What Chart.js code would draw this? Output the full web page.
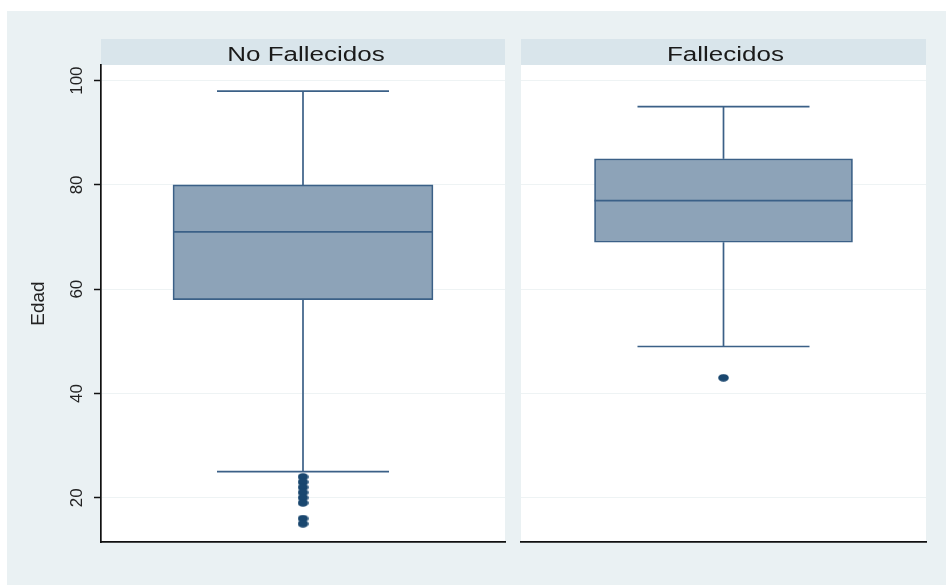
<!DOCTYPE html>
<html>
<head>
<meta charset="utf-8">
<script src="https://cdn.jsdelivr.net/npm/chart.js@4/dist/chart.umd.min.js"></script>
<style>
  html, body { margin: 0; padding: 0; background: #ffffff; }
  body { width: 946px; height: 586px; position: relative; overflow: hidden; }
  #frame { position: absolute; left: 7px; top: 11px; width: 939px; height: 574px; background: #eaf1f3; }
  canvas { position: absolute; top: 0; }
  #c1 { left: 0; }
  #c2 { left: 513px; }
</style>
</head>
<body>
<div id="frame"></div>
<canvas id="c1" width="513" height="586"></canvas>
<canvas id="c2" width="433" height="586"></canvas>
<script>
// Age (Edad) distribution by outcome group
const groups = ['No Fallecidos', 'Fallecidos'];
const lowerWhisker = [25, 49];
const q1 = [58, 69];
const median = [71, 77];
const q3 = [80, 85];
const upperWhisker = [98, 95];
const outliers = [
  [24, 23, 22, 21, 20, 19, 16, 15],
  [43]
];
const yMin = 11.5;
const yMax = 103;
const yStep = 20;

const BOX_FILL = '#8da3b8';
const BOX_LINE = '#3b6087';
const DOT = '#1a476f';
const GRID = '#eef3f4';

// Slightly wide oval marker for outside values
const dotMarker = document.createElement('canvas');
dotMarker.width = 11;
dotMarker.height = 8;
(() => {
  const g = dotMarker.getContext('2d');
  g.fillStyle = DOT;
  g.beginPath();
  g.ellipse(5.5, 4, 5.3, 3.8, 0, 0, Math.PI * 2);
  g.fill();
})();

// White plot region plus the grey header strip holding the group name
const panelDecor = {
  id: 'panelDecor',
  beforeDraw(chart, args, opts) {
    const { ctx, chartArea: a } = chart;
    ctx.save();
    ctx.fillStyle = '#ffffff';
    ctx.fillRect(a.left, a.top, a.right - a.left, a.bottom - a.top);
    ctx.fillStyle = '#d9e5eb';
    ctx.fillRect(a.left, a.top - 26, a.right - a.left, 26);
    ctx.fillStyle = '#1a1a1a';
    ctx.font = '20px "Liberation Sans", Arial, sans-serif';
    ctx.textAlign = 'center';
    ctx.textBaseline = 'alphabetic';
    const cx = (a.left + a.right) / 2 + opts.shift;
    ctx.translate(cx, a.top - 4);
    ctx.scale(1.3, 1);
    ctx.fillText(opts.label, 0, 0);
    ctx.restore();
  }
};

function boxDatasets(i, boxWidth, capWidth) {
  return [
    { // outside values
      type: 'scatter',
      data: outliers[i].map(v => ({ x: 0, y: v })),
      pointStyle: dotMarker,
      pointRadius: 5,
      order: 0
    },
    { // whisker caps
      type: 'scatter',
      data: [{ x: 0, y: lowerWhisker[i] }, { x: 0, y: upperWhisker[i] }],
      pointStyle: 'line',
      pointRadius: capWidth / 2,
      pointBorderColor: BOX_LINE,
      pointBorderWidth: 1.7,
      order: 1
    },
    { // median
      type: 'scatter',
      data: [{ x: 0, y: median[i] }],
      pointStyle: 'line',
      pointRadius: boxWidth / 2,
      pointBorderColor: BOX_LINE,
      pointBorderWidth: 1.7,
      order: 1
    },
    { // interquartile box
      type: 'bar',
      data: [{ x: 0, y: [q1[i], q3[i]] }],
      backgroundColor: BOX_FILL,
      borderColor: BOX_LINE,
      borderWidth: 1.7,
      borderSkipped: false,
      barThickness: boxWidth,
      order: 2
    },
    { // upper whisker
      type: 'line',
      data: [{ x: 0, y: q3[i] }, { x: 0, y: upperWhisker[i] }],
      borderColor: BOX_LINE,
      borderWidth: 1.7,
      pointRadius: 0,
      order: 3
    },
    { // lower whisker
      type: 'line',
      data: [{ x: 0, y: lowerWhisker[i] }, { x: 0, y: q1[i] }],
      borderColor: BOX_LINE,
      borderWidth: 1.7,
      pointRadius: 0,
      order: 3
    }
  ];
}

function makePanel(canvasId, i, withAxis, padding, boxWidth, capWidth, shift) {
  return new Chart(document.getElementById(canvasId), {
    data: { datasets: boxDatasets(i, boxWidth, capWidth) },
    plugins: [panelDecor],
    options: {
      responsive: false,
      animation: false,
      events: [],
      layout: { padding, autoPadding: false },
      plugins: {
        legend: { display: false },
        tooltip: { enabled: false },
        panelDecor: { label: groups[i], shift }
      },
      scales: {
        x: {
          type: 'linear',
          min: -1,
          max: 1,
          grid: { display: false },
          ticks: { display: false },
          border: { display: true, color: '#111111', width: 1.7 },
          afterFit(s) { s.height = 0; }
        },
        y: {
          type: 'linear',
          min: yMin,
          max: yMax,
          grid: {
            color: GRID,
            lineWidth: 1,
            drawTicks: withAxis,
            tickLength: 7,
            tickColor: '#111111',
            tickWidth: 1.5
          },
          border: { display: withAxis, color: '#111111', width: 1.7 },
          ticks: {
            display: withAxis,
            stepSize: yStep,
            includeBounds: false,
            minRotation: 90,
            maxRotation: 90,
            crossAlign: 'center',
            padding: 3,
            color: '#222222',
            font: { family: '"Liberation Sans", Arial, sans-serif', size: 17 }
          },
          title: {
            display: withAxis,
            text: 'Edad',
            color: '#222222',
            padding: 27,
            font: { family: '"Liberation Sans", Arial, sans-serif', size: 19 }
          },
          afterFit(s) { s.width = withAxis ? 101 : 0; }
        }
      }
    }
  });
}

makePanel('c1', 0, true, { top: 65, bottom: 44, left: 0, right: 8 }, 260, 172, 3);
makePanel('c2', 1, false, { top: 65, bottom: 44, left: 8, right: 20 }, 258, 172, 2);
</script>
</body>
</html>
